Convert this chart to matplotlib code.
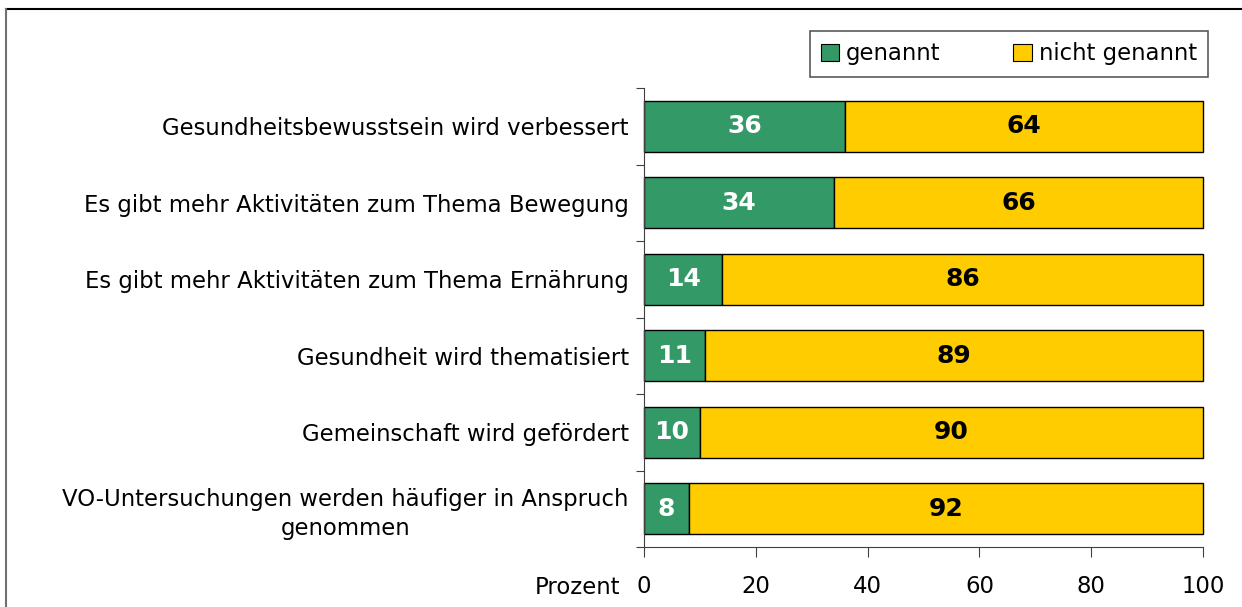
import matplotlib.pyplot as plt
from matplotlib.lines import Line2D
import numpy as np

categories = [
    "Gesundheitsbewusstsein wird verbessert",
    "Es gibt mehr Aktivitäten zum Thema Bewegung",
    "Es gibt mehr Aktivitäten zum Thema Ernährung",
    "Gesundheit wird thematisiert",
    "Gemeinschaft wird gefördert",
    "VO-Untersuchungen werden häufiger in Anspruch\ngenommen",
]
genannt = [36, 34, 14, 11, 10, 8]
nicht_genannt = [64, 66, 86, 89, 90, 92]
series_names = ["genannt", "nicht genannt"]
x_ticks = [0, 20, 40, 60, 80, 100]

GREEN = "#339966"
YELLOW = "#FFCC00"


def main():
    plt.rcParams['font.family'] = ['DejaVu Sans']
    fig = plt.figure(figsize=(12.42, 6.07), dpi=100)
    ax = fig.add_axes([0.5185, 0.0988, 0.4501, 0.7562])

    y = np.arange(len(categories))
    bars1 = ax.barh(y, genannt, height=0.67, color=GREEN, edgecolor="black",
                    linewidth=1, label=series_names[0])
    bars2 = ax.barh(y, nicht_genannt, left=genannt, height=0.67, color=YELLOW,
                    edgecolor="black", linewidth=1, label=series_names[1])
    for b in list(bars1) + list(bars2):
        b.set_clip_on(False)

    for i in range(len(categories)):
        ax.text(genannt[i] / 2, i, str(genannt[i]), ha="center", va="center",
                color="white", fontsize=18, fontweight="bold")
        ax.text(genannt[i] + nicht_genannt[i] / 2, i, str(nicht_genannt[i]),
                ha="center", va="center", color="black", fontsize=18,
                fontweight="bold")

    ax.set_xlim(0, 100)
    ax.set_ylim(len(categories) - 0.5, -0.5)

    # boundary ticks on y axis, labels at the bar centres
    ax.set_yticks(np.arange(len(categories) + 1) - 0.5)
    ax.set_yticklabels([])
    ax.set_yticks(y, minor=True)
    ax.set_yticklabels(categories, minor=True, fontsize=16.4,
                       multialignment="center", linespacing=1.3)
    ax.tick_params(axis="y", which="major", direction="out", length=6,
                   color="#404040")
    ax.tick_params(axis="y", which="minor", length=0, pad=11)

    ax.set_xticks(x_ticks)
    ax.set_xticklabels([str(t) for t in x_ticks], fontsize=16.4)
    ax.tick_params(axis="x", direction="out", length=7, pad=13,
                   color="#404040")

    ax.spines['top'].set_visible(False)
    ax.spines['right'].set_visible(False)
    ax.spines['left'].set_color("#404040")
    ax.spines['bottom'].set_color("#404040")

    fig.text(0.499, 0.0315, "Prozent", ha="right", va="center", fontsize=16.4)

    leg = ax.legend(loc="lower right", bbox_to_anchor=(1.009, 1.025), ncol=2,
                    fontsize=16.4, frameon=True, fancybox=False,
                    handlelength=0.8, handleheight=0.8, handletextpad=0.3,
                    columnspacing=3.2, borderpad=0.5, borderaxespad=0)
    leg.get_frame().set_edgecolor("#303030")
    leg.get_frame().set_linewidth(1.2)
    for h in leg.legend_handles:
        h.set_edgecolor("black")
        h.set_linewidth(0.8)

    # figure frame, top and left edge only
    fig.add_artist(Line2D([0.005, 1.0], [0.985, 0.985], color="black",
                          linewidth=1.5, transform=fig.transFigure))
    fig.add_artist(Line2D([0.005, 0.005], [0.0, 0.985], color="#707070",
                          linewidth=1.5, transform=fig.transFigure))

    fig.savefig("out.png", dpi=100)


if __name__ == "__main__":
    main()
